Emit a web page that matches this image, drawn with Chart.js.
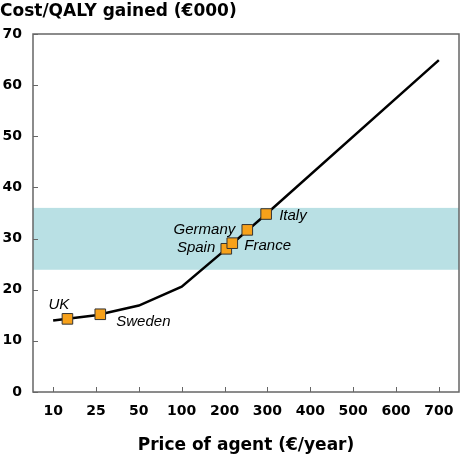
<!DOCTYPE html>
<html>
<head>
<meta charset="utf-8">
<script src="https://cdn.jsdelivr.net/npm/chart.js@4/dist/chart.umd.min.js"></script>
<style>
  body { margin: 0; background: #fff; }
  canvas { display: block; }
</style>
</head>
<body>
<canvas id="my_graph" width="462" height="455"></canvas>
<script>
// tick labels on the price axis (equally spaced, not to scale)
const priceTicks = [10, 25, 50, 100, 200, 300, 400, 500, 600, 700];
const costTicks = [0, 10, 20, 30, 40, 50, 60, 70];

// cost curve
const curvePrice = [10, 25, 50, 100, 200, 300, 700];
const curveCost = [14.0, 15.0, 16.9, 20.6, 27.7, 35.0, 64.9];

// countries
const countries = ['UK', 'Sweden', 'Spain', 'France', 'Germany', 'Italy'];
const countryPrice = [15, 27.5, 204, 218, 253, 297];
const countryCost = [14.3, 15.2, 28.0, 29.1, 31.7, 34.8];

// shaded range (€000)
const bandRange = [23.9, 36.0];

// price -> position on the equally spaced axis
function pricePos(p) {
  for (let i = 0; i < priceTicks.length - 1; i++) {
    if (p <= priceTicks[i + 1]) {
      return i + (p - priceTicks[i]) / (priceTicks[i + 1] - priceTicks[i]);
    }
  }
  return priceTicks.length - 1;
}

const labelOffsets = {
  UK: { dx: -19, dy: -14, align: 'left' },
  Sweden: { dx: 16, dy: 8, align: 'left' },
  Spain: { dx: -11, dy: -1, align: 'right' },
  France: { dx: 12, dy: 3, align: 'left' },
  Germany: { dx: -12, dy: 0, align: 'right' },
  Italy: { dx: 13, dy: 2, align: 'left' }
};

const boldFont = '"DejaVu Sans", Verdana, sans-serif';

const bandAndBox = {
  id: 'bandAndBox',
  beforeDatasetsDraw(chart) {
    const { ctx, chartArea: a, scales: { x, y } } = chart;
    ctx.save();
    ctx.fillStyle = '#b9e0e4';
    const y1 = y.getPixelForValue(bandRange[1]);
    const y0 = y.getPixelForValue(bandRange[0]);
    ctx.fillRect(a.left, y1, a.right - a.left, y0 - y1);

    ctx.strokeStyle = '#666';
    ctx.lineWidth = 1.5;
    ctx.strokeRect(a.left, a.top, a.right - a.left, a.bottom - a.top);
    ctx.lineWidth = 1;
    ctx.beginPath();
    costTicks.forEach(v => {
      const py = Math.round(y.getPixelForValue(v)) + 0.5;
      ctx.moveTo(a.left, py);
      ctx.lineTo(a.left + 5, py);
    });
    priceTicks.forEach((p, i) => {
      const px = Math.round(x.getPixelForValue(i)) + 0.5;
      ctx.moveTo(px, a.bottom);
      ctx.lineTo(px, a.bottom - 5);
    });
    ctx.stroke();
    ctx.restore();
  },
  afterDatasetsDraw(chart) {
    const { ctx } = chart;
    const meta = chart.getDatasetMeta(0);
    ctx.save();
    ctx.fillStyle = '#000';
    ctx.font = 'italic 15px "Liberation Sans", Arial, sans-serif';
    ctx.textBaseline = 'middle';
    meta.data.forEach((pt, i) => {
      const o = labelOffsets[countries[i]];
      ctx.textAlign = o.align;
      ctx.fillText(countries[i], pt.x + o.dx, pt.y + o.dy);
    });
    ctx.font = 'bold 17px ' + boldFont;
    ctx.textAlign = 'left';
    ctx.fillText('Cost/QALY gained (\u20ac000)', 0, 12);
    ctx.restore();
  }
};

const ctx = document.getElementById('my_graph');

new Chart(ctx, {
  type: 'line',
  data: {
    datasets: [{
      label: 'Countries',
      data: countries.map((c, i) => ({ x: pricePos(countryPrice[i]), y: countryCost[i] })),
      showLine: false,
      pointStyle: 'rect',
      pointRadius: 7.5,
      pointBackgroundColor: '#f7a11a',
      pointBorderColor: '#333',
      pointBorderWidth: 1,
      order: 0
    }, {
      label: 'Cost/QALY',
      data: curvePrice.map((p, i) => ({ x: pricePos(p), y: curveCost[i] })),
      borderColor: '#000',
      borderWidth: 2.5,
      pointRadius: 0,
      tension: 0,
      order: 1
    }]
  },
  options: {
    responsive: false,
    animation: false,
    layout: { autoPadding: false, padding: { top: 34, right: 3, left: 0, bottom: 0 } },
    scales: {
      x: {
        type: 'linear',
        min: -0.47,
        max: 9.47,
        afterBuildTicks: s => { s.ticks = priceTicks.map((p, i) => ({ value: i })); },
        afterFit: s => { s.height = 63; s.paddingLeft = 0; s.paddingRight = 0; },
        ticks: {
          callback: v => priceTicks[v],
          color: '#000',
          font: { family: boldFont, size: 14, weight: 'bold' },
          padding: 11,
          maxRotation: 0,
          autoSkip: false
        },
        grid: { display: false, drawTicks: false },
        border: { display: false },
        title: {
          display: true,
          text: 'Price of agent (\u20ac/year)',
          color: '#000',
          font: { family: boldFont, size: 17, weight: 'bold' },
          padding: { top: 0, bottom: -1 }
        }
      },
      y: {
        min: 0,
        max: 70,
        afterBuildTicks: s => { s.ticks = costTicks.map(v => ({ value: v })); },
        afterFit: s => { s.width = 33; },
        ticks: {
          color: '#000',
          font: { family: boldFont, size: 14, weight: 'bold' },
          padding: 11
        },
        grid: { display: false, drawTicks: false },
        border: { display: false }
      }
    },
    plugins: {
      legend: { display: false },
      tooltip: { enabled: false }
    }
  },
  plugins: [bandAndBox]
});
</script>
</body>
</html>
